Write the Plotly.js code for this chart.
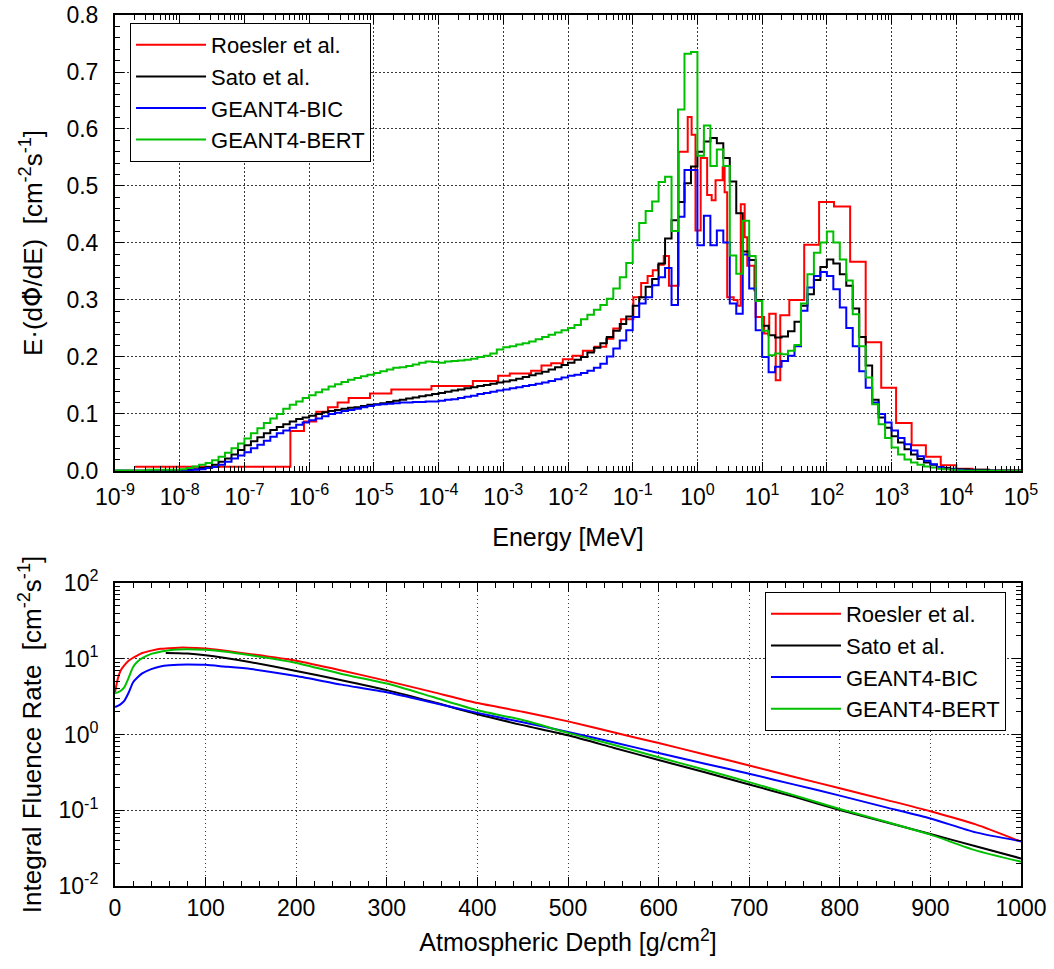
<!DOCTYPE html>
<html>
<head>
<meta charset="utf-8">
<script src="https://cdn.plot.ly/plotly-3.0.1.min.js"></script>
<style>
  html, body { margin: 0; padding: 0; background: #fff; }
  #chart { width: 1054px; height: 969px; }
</style>
</head>
<body>
<div id="chart"></div>
<script>
// ---- series identity ----
const seriesNames  = ['Roesler et al.', 'Sato et al.', 'GEANT4-BIC', 'GEANT4-BERT'];
const seriesColors = ['#ff0000', '#000000', '#0000ff', '#00c000'];

// ---- lethargy spectrum, E*(dPhi/dE) [cm^-2 s^-1] ----
// Roesler et al.: irregular bins, edges given as log10(E / MeV)
const roeslerBinEdgesLog10 = [-8.69, -6.29, -6.08, -5.89, -5.71, -5.56, -5.39, -5.06, -4.73, -4.11,
  -3.47, -3.08, -2.9, -2.57, -2.41, -2.26, -2.08, -1.93, -1.77, -1.59, -1.41, -1.3, -1.18, -0.99,
  -0.87, -0.77, -0.69, -0.61, -0.52, -0.44, -0.29, -0.15, -0.09, -0.03, 0.05, 0.15, 0.22, 0.28,
  0.39, 0.42, 0.46, 0.56, 0.62, 0.67, 0.73, 0.77, 0.88, 0.9, 1.03, 1.11, 1.21, 1.28, 1.42, 1.65,
  1.88, 2.11, 2.36, 2.6, 2.84, 3.07, 3.31, 3.53, 3.76, 4.0, 4.25, 4.5, 5.0];
const roeslerSpectrum = [0.0075, 0.07, 0.087, 0.104, 0.112, 0.12, 0.128, 0.136, 0.143, 0.149,
  0.158, 0.167, 0.171, 0.176, 0.185, 0.189, 0.196, 0.202, 0.211, 0.218, 0.232, 0.25, 0.266, 0.305,
  0.33, 0.342, 0.352, 0.362, 0.377, 0.325, 0.56, 0.621, 0.59, 0.422, 0.549, 0.484, 0.475, 0.51,
  0.533, 0.489, 0.305, 0.3, 0.29, 0.468, 0.41, 0.36, 0.317, 0.27, 0.241, 0.276, 0.159, 0.273, 0.3,
  0.397, 0.472, 0.464, 0.367, 0.226, 0.146, 0.084, 0.045, 0.025, 0.01, 0.004, 0.002, 0.001];

// Sato / GEANT4 runs share ten bins per decade from 1e-9 to 1e5 MeV
const sharedBinsPerDecade = 10;
const sharedFirstDecade = -9;
const satoSpectrum = [
  0.0005, 0.0005, 0.0005, 0.0005, 0.0005, 0.001, 0.001, 0.001, 0.001, 0.001,
  0.001, 0.002, 0.003, 0.005, 0.007, 0.011, 0.016, 0.022, 0.029, 0.037,
  0.045, 0.052, 0.059, 0.066, 0.072, 0.077, 0.082, 0.087, 0.091, 0.094,
  0.097, 0.1, 0.103, 0.105, 0.107, 0.109, 0.111, 0.112, 0.114, 0.116,
  0.117, 0.119, 0.121, 0.123, 0.125, 0.127, 0.129, 0.131, 0.133, 0.135,
  0.137, 0.139, 0.141, 0.143, 0.145, 0.147, 0.149, 0.151, 0.153, 0.155,
  0.157, 0.159, 0.162, 0.165, 0.168, 0.171, 0.174, 0.178, 0.182, 0.186,
  0.19, 0.195, 0.2, 0.208, 0.216, 0.224, 0.235, 0.246, 0.258, 0.271,
  0.29, 0.305, 0.323, 0.337, 0.364, 0.408, 0.44, 0.472, 0.505, 0.534,
  0.56, 0.578, 0.584, 0.575, 0.549, 0.508, 0.452, 0.385, 0.37, 0.3,
  0.255, 0.238, 0.234, 0.236, 0.245, 0.262, 0.29, 0.31, 0.335, 0.358,
  0.371, 0.364, 0.345, 0.325, 0.285, 0.235, 0.185, 0.125, 0.094, 0.076,
  0.061, 0.05, 0.038, 0.029, 0.021, 0.015, 0.011, 0.007, 0.005, 0.004,
  0.003, 0.003, 0.002, 0.002, 0.002, 0.001, 0.001, 0.001, 0.001, 0.001];
const bicSpectrum = [
  0.0005, 0.0005, 0.0005, 0.0005, 0.0005, 0.0005, 0.0005, 0.0005, 0.0005, 0.0005,
  0.001, 0.001, 0.002, 0.003, 0.005, 0.007, 0.011, 0.016, 0.022, 0.027,
  0.033, 0.04, 0.046, 0.053, 0.06, 0.066, 0.071, 0.076, 0.081, 0.085,
  0.089, 0.092, 0.096, 0.1, 0.102, 0.105, 0.107, 0.109, 0.112, 0.114,
  0.116, 0.117, 0.118, 0.119, 0.12, 0.12, 0.121, 0.121, 0.122, 0.122,
  0.123, 0.125, 0.126, 0.128, 0.13, 0.132, 0.135, 0.137, 0.139, 0.141,
  0.143, 0.145, 0.147, 0.149, 0.151, 0.153, 0.155, 0.158, 0.161, 0.164,
  0.167, 0.169, 0.172, 0.176, 0.181, 0.188, 0.201, 0.215, 0.229, 0.247,
  0.27, 0.294, 0.305, 0.326, 0.34, 0.356, 0.291, 0.446, 0.528, 0.528,
  0.396, 0.448, 0.396, 0.422, 0.401, 0.294, 0.276, 0.38, 0.32, 0.247,
  0.2, 0.173, 0.183, 0.193, 0.202, 0.219, 0.281, 0.322, 0.342, 0.349,
  0.342, 0.319, 0.287, 0.251, 0.219, 0.175, 0.146, 0.12, 0.1, 0.085,
  0.071, 0.058, 0.047, 0.036, 0.026, 0.018, 0.012, 0.007, 0.004, 0.003,
  0.002, 0.001, 0.001, 0.0005, 0.0005, 0.0005, 0.0005, 0.0005, 0.0005, 0.0005];
const bertSpectrum = [
  0.001, 0.001, 0.001, 0.001, 0.001, 0.002, 0.002, 0.002, 0.002, 0.002,
  0.003, 0.005, 0.008, 0.011, 0.014, 0.019, 0.025, 0.032, 0.04, 0.048,
  0.057, 0.066, 0.075, 0.084, 0.092, 0.1, 0.109, 0.116, 0.122, 0.128,
  0.133, 0.138, 0.143, 0.148, 0.152, 0.156, 0.16, 0.163, 0.166, 0.169,
  0.172, 0.175, 0.178, 0.181, 0.182, 0.184, 0.187, 0.19, 0.192, 0.191,
  0.19, 0.192, 0.193, 0.194, 0.195, 0.197, 0.2, 0.202, 0.206, 0.213,
  0.217, 0.219, 0.222, 0.224, 0.227, 0.231, 0.235, 0.239, 0.243, 0.247,
  0.251, 0.256, 0.266, 0.274, 0.283, 0.291, 0.302, 0.32, 0.34, 0.365,
  0.405, 0.435, 0.456, 0.473, 0.507, 0.516, 0.421, 0.634, 0.732, 0.735,
  0.553, 0.606, 0.535, 0.564, 0.535, 0.378, 0.346, 0.439, 0.377, 0.298,
  0.246, 0.203, 0.206, 0.205, 0.211, 0.221, 0.294, 0.345, 0.383, 0.401,
  0.42, 0.401, 0.371, 0.334, 0.275, 0.219, 0.164, 0.117, 0.082, 0.058,
  0.041, 0.029, 0.02, 0.015, 0.011, 0.008, 0.006, 0.004, 0.003, 0.002,
  0.001, 0.0005, 0.0005, 0.0005, 0.0005, 0.0005, 0.0005, 0.0005, 0.0005, 0.0005];

// ---- integral fluence rate vs atmospheric depth [g/cm^2] ----
const depth = [0, 3, 6, 10, 15, 20, 25, 30, 40, 50, 60, 70, 80, 100, 120, 150, 200, 250, 300,
  350, 400, 450, 500, 550, 600, 650, 700, 750, 800, 850, 900, 950, 1000];
const roeslerRate = [3.6, 5.4, 6.9, 8.1, 9.4, 10.3, 11.1, 11.9, 12.8, 13.5, 13.8, 14.0, 14.0, 13.6,
  12.8, 11.5, 9.4, 7.0, 5.1, 3.65, 2.6, 2.0, 1.49, 1.07, 0.77, 0.55, 0.39, 0.275, 0.195, 0.138,
  0.097, 0.065, 0.0385];
const bicRate = [2.3, 2.38, 2.5, 2.75, 3.55, 4.9, 5.7, 6.4, 7.3, 7.9, 8.2, 8.35, 8.4, 8.3, 7.9,
  7.3, 5.9, 4.55, 3.6, 2.65, 1.93, 1.45, 1.08, 0.79, 0.57, 0.415, 0.303, 0.218, 0.156, 0.11,
  0.078, 0.051, 0.039];
const bertRate = [3.5, 3.6, 3.75, 4.15, 5.6, 7.8, 9.2, 10.2, 11.6, 12.4, 12.9, 13.2, 13.3, 13.1,
  12.5, 11.1, 8.8, 6.3, 4.7, 3.15, 2.09, 1.55, 1.05, 0.73, 0.5, 0.345, 0.235, 0.157, 0.104, 0.071,
  0.0476, 0.0295, 0.0209];
const satoDepth = [56, 70, 80, 100, 120, 150, 200, 250, 300, 350, 400, 450, 500, 550, 600, 650,
  700, 750, 800, 850, 900, 950, 1000];
const satoRate = [11.9, 11.85, 11.7, 11.1, 10.3, 9.0, 6.9, 5.2, 3.85, 2.7, 1.85, 1.33, 0.975,
  0.67, 0.46, 0.32, 0.219, 0.15, 0.101, 0.07, 0.0486, 0.0335, 0.0231];

// ---- tick labels ----
const energyDecades = [-9, -8, -7, -6, -5, -4, -3, -2, -1, 0, 1, 2, 3, 4, 5];
const energyTickText = energyDecades.map(d => '10<sup>' + d + '</sup>');
const rateDecades = [-2, -1, 0, 1, 2];
const rateTickText = rateDecades.map(d => '10<sup>' + d + '</sup>');

// ---- helpers ----
const FONT = 'Liberation Sans, Arial, Helvetica, sans-serif';

// histogram drawn as a staircase: one x per bin edge, value repeated for the closing edge
function stepTrace(edgesLog10, values, idx) {
  return {
    x: edgesLog10.map(v => Math.pow(10, v)),
    y: values.concat([values[values.length - 1]]),
    type: 'scatter', mode: 'lines',
    line: { shape: 'hv', color: seriesColors[idx], width: 2 },
    name: seriesNames[idx], legend: 'legend',
    xaxis: 'x', yaxis: 'y', hoverinfo: 'skip'
  };
}
function sharedEdges(nBins) {
  const e = [];
  for (let i = 0; i <= nBins; i++) e.push(sharedFirstDecade + i / sharedBinsPerDecade);
  return e;
}
function curveTrace(xs, ys, idx) {
  return {
    x: xs, y: ys, type: 'scatter', mode: 'lines',
    line: { color: seriesColors[idx], width: 2, shape: 'spline', smoothing: 0.6 },
    name: seriesNames[idx], legend: 'legend2',
    xaxis: 'x2', yaxis: 'y2', hoverinfo: 'skip'
  };
}
function logMinorTicks(fromDecade, toDecade) {
  const t = [];
  for (let d = fromDecade; d < toDecade; d++)
    for (let m = 2; m <= 9; m++) t.push(m * Math.pow(10, d));
  return t;
}

const traces = [
  stepTrace(roeslerBinEdgesLog10, roeslerSpectrum, 0),
  stepTrace(sharedEdges(satoSpectrum.length), satoSpectrum, 1),
  stepTrace(sharedEdges(bicSpectrum.length), bicSpectrum, 2),
  stepTrace(sharedEdges(bertSpectrum.length), bertSpectrum, 3),
  curveTrace(depth, roeslerRate, 0),
  curveTrace(satoDepth, satoRate, 1),
  curveTrace(depth, bicRate, 2),
  curveTrace(depth, bertRate, 3)
];

function axis(extra, titleText, titleSize, titleStandoff, labelStandoff) {
  const a = {
    showline: true, linecolor: '#000', linewidth: 2, mirror: 'allticks',
    ticks: 'inside', ticklen: 9, tickwidth: 1, tickcolor: '#000',
    showgrid: true, gridcolor: '#3a3a3a', gridwidth: 1, griddash: '1.5px,2.5px',
    zeroline: false, fixedrange: true,
    ticklabelstandoff: labelStandoff,
    tickfont: { family: FONT, size: 23, color: '#000' },
    title: { text: titleText, standoff: titleStandoff, font: { family: FONT, size: titleSize, color: '#000' } }
  };
  return Object.assign(a, extra);
}

// Phi with a combining dot above (time derivative); DejaVu places the mark cleanly
const phiDot = '<span style="font-family:DejaVu Sans">\u03a6\u0307</span>';

const layout = {
  width: 1054, height: 969,
  margin: { l: 115, r: 33, t: 15, b: 83 },
  paper_bgcolor: '#fff', plot_bgcolor: '#fff',
  font: { family: FONT, size: 22, color: '#000' },
  showlegend: true,
  xaxis: axis({
    type: 'log', range: [-9, 5], anchor: 'y', domain: [0, 1],
    tickmode: 'array', tickvals: energyDecades.map(d => Math.pow(10, d)), ticktext: energyTickText,
    minor: { tickmode: 'array', tickvals: logMinorTicks(-9, 5), ticks: 'inside', ticklen: 5, tickcolor: '#000', showgrid: false }
  }, 'Energy [MeV]', 25, 20, 4),
  yaxis: axis({
    range: [0, 0.8], anchor: 'x', domain: [0.4765, 1],
    dtick: 0.1, tick0: 0, tickformat: '.1f',
    minor: { dtick: 0.02, ticks: 'inside', ticklen: 5, tickcolor: '#000', showgrid: false }
  }, 'E\u00b7(d' + phiDot + '/dE)\u00a0\u00a0[cm<sup>-2</sup>s<sup>-1</sup>]', 26, 16, 10),
  xaxis2: axis({
    range: [0, 1000], anchor: 'y2', domain: [0, 1],
    dtick: 100, tick0: 0,
    minor: { dtick: 20, ticks: 'inside', ticklen: 5, tickcolor: '#000', showgrid: false }
  }, 'Atmospheric Depth [g/cm<sup>2</sup>]', 25, 14, 0),
  yaxis2: axis({
    type: 'log', range: [-2, 2], anchor: 'x2', domain: [0, 0.3479],
    tickmode: 'array', tickvals: rateDecades.map(d => Math.pow(10, d)), ticktext: rateTickText,
    minor: { tickmode: 'array', tickvals: logMinorTicks(-2, 2), ticks: 'inside', ticklen: 5, tickcolor: '#000', showgrid: false }
  }, 'Integral Fluence Rate\u00a0\u00a0[cm<sup>-2</sup>s<sup>-1</sup>]', 26, 9, 10),
  legend: {
    x: 0.0166, y: 0.9908, xanchor: 'left', yanchor: 'top',
    bgcolor: '#fff', bordercolor: '#000', borderwidth: 1,
    font: { family: FONT, size: 22, color: '#000' },
    itemwidth: 70, tracegroupgap: 0
  },
  legend2: {
    x: 0.9834, y: 0.3375, xanchor: 'right', yanchor: 'top',
    bgcolor: '#fff', bordercolor: '#000', borderwidth: 1,
    font: { family: FONT, size: 22, color: '#000' },
    itemwidth: 70, tracegroupgap: 0
  }
};

Plotly.newPlot('chart', traces, layout, { staticPlot: true, displayModeBar: false });
</script>
</body>
</html>
